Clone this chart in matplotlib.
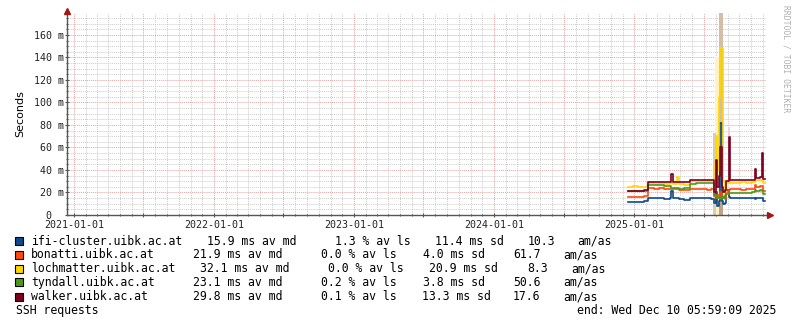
import pandas as pd
import matplotlib
matplotlib.use('Agg')
import matplotlib.pyplot as plt
import matplotlib.dates as mdates
from matplotlib.ticker import MultipleLocator, FuncFormatter
from matplotlib.patches import Rectangle

# data (ms)
dates = pd.to_datetime([
    "2024-12-14", "2024-12-28", "2025-01-11", "2025-01-25", "2025-02-06",
    "2025-02-20", "2025-03-06", "2025-03-20", "2025-04-03", "2025-04-07",
    "2025-04-11", "2025-04-23", "2025-04-27", "2025-05-10", "2025-05-27",
    "2025-06-10", "2025-06-24", "2025-07-08", "2025-07-20", "2025-07-28",
    "2025-08-01", "2025-08-05", "2025-08-09", "2025-08-13", "2025-08-17",
    "2025-08-21", "2025-08-25", "2025-08-29", "2025-09-04", "2025-09-08",
    "2025-09-22", "2025-10-06", "2025-10-20", "2025-11-03", "2025-11-12",
    "2025-11-15", "2025-11-24", "2025-11-29", "2025-12-02", "2025-12-08"])

ifi = [11.8, 11.8, 11.6, 12.0, 15.2, 14.8, 15.0, 14.6, 15.0, 21.0,
       14.8, 15.2, 14.5, 13.5, 14.8, 15.3, 14.8, 15.0, 14.5, 10.5,
       20.0, 8.0, 12.0, 82.0, 12.0, 10.0, 10.5, 22.0, 16.0, 14.8,
       15.2, 14.8, 15.0, 14.8, 14.0, 14.8, 15.0, 14.8, 12.0, 12.0]
bonatti = [16.3, 16.3, 16.0, 16.5, 24.0, 23.5, 23.8, 23.0, 23.5, 23.2,
           23.0, 23.5, 22.5, 22.0, 23.0, 22.8, 23.0, 22.5, 22.8, 17.0,
           15.0, 18.0, 16.0, 20.0, 15.0, 16.0, 14.0, 20.0, 22.0, 22.8,
           23.0, 22.5, 23.0, 22.8, 26.5, 25.0, 26.0, 25.5, 21.0, 21.0]
lochmatter = [25.0, 25.5, 24.5, 25.0, 28.0, 27.5, 28.0, 27.5, 28.0, 28.0,
              27.5, 34.0, 27.8, 27.0, 30.5, 30.0, 30.5, 30.0, 30.5, 45.0,
              70.0, 40.0, 105.0, 148.0, 148.0, 30.0, 20.0, 28.0, 29.0, 28.7,
              28.5, 29.0, 28.7, 29.0, 31.0, 31.5, 31.0, 30.5, 28.0, 28.0]
tyndall = [21.0, 21.3, 21.0, 21.2, 26.7, 26.5, 26.8, 26.0, 25.5, 24.0,
           23.8, 24.0, 23.5, 24.0, 27.5, 28.0, 28.5, 28.2, 28.7, 18.0,
           17.0, 15.0, 16.0, 14.0, 17.0, 15.0, 18.0, 19.0, 19.2, 19.2,
           19.5, 19.2, 19.8, 20.0, 22.0, 21.5, 22.0, 21.5, 19.0, 19.0]
walker = [21.5, 21.5, 21.3, 21.8, 29.0, 29.3, 29.0, 29.5, 29.0, 36.0,
          29.5, 29.3, 29.5, 29.0, 31.0, 31.0, 31.2, 31.0, 31.2, 20.0,
          49.0, 25.0, 35.0, 60.0, 25.0, 20.0, 22.0, 30.0, 69.0, 31.0,
          31.2, 31.0, 31.5, 31.0, 40.5, 33.0, 33.5, 55.0, 32.0, 32.0]

# smoke bands in the outage period
smoke_from = pd.to_datetime(["2025-07-31", "2025-07-26", "2025-08-10", "2025-08-10", "2025-09-02"])
smoke_to = pd.to_datetime(["2025-08-09", "2025-08-01", "2025-08-20", "2025-08-20", "2025-09-07"])
smoke_lo = [0, 0, 0, 0, 38]
smoke_hi = [140, 73, 180, 20, 78]

hosts = ["ifi-cluster.uibk.ac.at", "bonatti.uibk.ac.at", "lochmatter.uibk.ac.at",
         "tyndall.uibk.ac.at", "walker.uibk.ac.at"]
med = ["15.9", "21.9", "32.1", "23.1", "29.8"]
loss = ["1.3", "0.0", "0.0", "0.2", "0.1"]
sd = ["11.4", "4.0", "20.9", "3.8", "13.3"]
amas = ["10.3", "61.7", "8.3", "50.6", "17.6"]

series = [ifi, bonatti, lochmatter, tyndall, walker]
colors = ['#0b4a8c', '#ff4a0a', '#ffd700', '#4d9a1a', '#7d0022']
smoke_col = ['#fff1c2', '#dccbb4', '#d2bea6', '#bba38c', '#e6dad2']

W, H = 797, 325
fig = plt.figure(figsize=(W / 100, H / 100), dpi=100)
ax = fig.add_axes([67 / W, 110 / H, 699 / W, 202 / H])

for i in range(len(smoke_lo)):
    ax.fill_between([smoke_from[i], smoke_to[i]], smoke_lo[i], smoke_hi[i],
                    color=smoke_col[i], lw=0, zorder=2)

for s, c in zip(series, colors):
    ax.step(dates, s, where='post', color=c, lw=1.2, zorder=3)

ax.set_xlim(pd.Timestamp("2020-12-14"), pd.Timestamp("2025-12-10"))
ax.set_ylim(0, 179.5)

ax.xaxis.set_major_locator(mdates.MonthLocator(bymonth=[1, 7]))
ax.xaxis.set_minor_locator(mdates.MonthLocator())
ax.xaxis.set_major_formatter(FuncFormatter(
    lambda v, p: mdates.num2date(v).strftime('%Y-%m-%d') if mdates.num2date(v).month == 1 else ''))
ax.yaxis.set_major_locator(MultipleLocator(20))
ax.yaxis.set_minor_locator(MultipleLocator(5))
ax.yaxis.set_major_formatter(FuncFormatter(lambda v, p: '0  ' if v == 0 else '%d m' % v))

ax.grid(which='minor', color='#cccccc', ls=(0, (1, 1)), lw=0.7, zorder=0)
ax.grid(which='major', color='#e6a3a3', ls=(0, (1, 1)), lw=0.7, zorder=1)
ax.set_axisbelow(True)

for sp in ['top', 'right']:
    ax.spines[sp].set_visible(False)
for sp in ['left', 'bottom']:
    ax.spines[sp].set_color('#555555')
    ax.spines[sp].set_linewidth(1.0)
    ax.spines[sp].set_zorder(4)

mono = 'DejaVu Sans Mono'
ax.tick_params(which='both', colors='#555555', labelcolor='#222222', direction='inout')
ax.tick_params(which='major', length=3, width=0.8, labelsize=7.2, pad=1)
ax.tick_params(axis='x', which='major', pad=2)
ax.tick_params(which='minor', length=2, width=0.8)
for lab in ax.get_xticklabels() + ax.get_yticklabels():
    lab.set_family(mono)

ax.plot([1.006], [0], marker='>', ms=5, color='#a01818', transform=ax.transAxes, clip_on=False, zorder=5)
ax.plot([0], [1.012], marker='^', ms=5, color='#a01818', transform=ax.transAxes, clip_on=False, zorder=5)

ax.set_ylabel('Seconds', fontsize=8, labelpad=6)


def fx(px):
    return px / W


def fy(py):
    return 1 - py / H


fig.text(fx(786), fy(5), 'RRDTOOL / TOBI OETIKER', rotation=270, ha='center', va='top',
         family=mono, fontsize=5.8, color='#b0b0b0')

rows_y = [241.3, 254.7, 268.7, 282.3, 297.0]
col_x = [
    [207, 335, 435, 528, 577],
    [193, 321, 423, 513, 563],
    [200, 328, 429, 527, 571],
    [193, 321, 423, 513, 563],
    [193, 321, 422, 513, 563],
]
fs = 8.3
for i in range(5):
    y = rows_y[i]
    fig.add_artist(Rectangle((fx(15), fy(y + 4)), 8 / W, 8 / H, transform=fig.transFigure,
                             facecolor=colors[i], edgecolor='black', lw=0.8))
    fig.text(fx(31), fy(y), hosts[i], va='center', family=mono, fontsize=fs)
    cx = col_x[i]
    fig.text(fx(cx[0]), fy(y), med[i] + ' ms av md', va='center', family=mono, fontsize=fs)
    fig.text(fx(cx[1]), fy(y), loss[i] + ' % av ls', va='center', family=mono, fontsize=fs)
    fig.text(fx(cx[2]), fy(y), sd[i] + ' ms sd', va='center', family=mono, fontsize=fs)
    fig.text(fx(cx[3]), fy(y), amas[i], va='center', family=mono, fontsize=fs)
    fig.text(fx(cx[4]), fy(y), 'am/as', va='center', family=mono, fontsize=fs)

fig.text(fx(16), fy(310.7), 'SSH requests', va='center', family=mono, fontsize=fs)
fig.text(fx(577), fy(310.7), 'end: Wed Dec 10 05:59:09 2025', va='center', family=mono, fontsize=fs)

fig.savefig('out.png', dpi=100, facecolor='white')
